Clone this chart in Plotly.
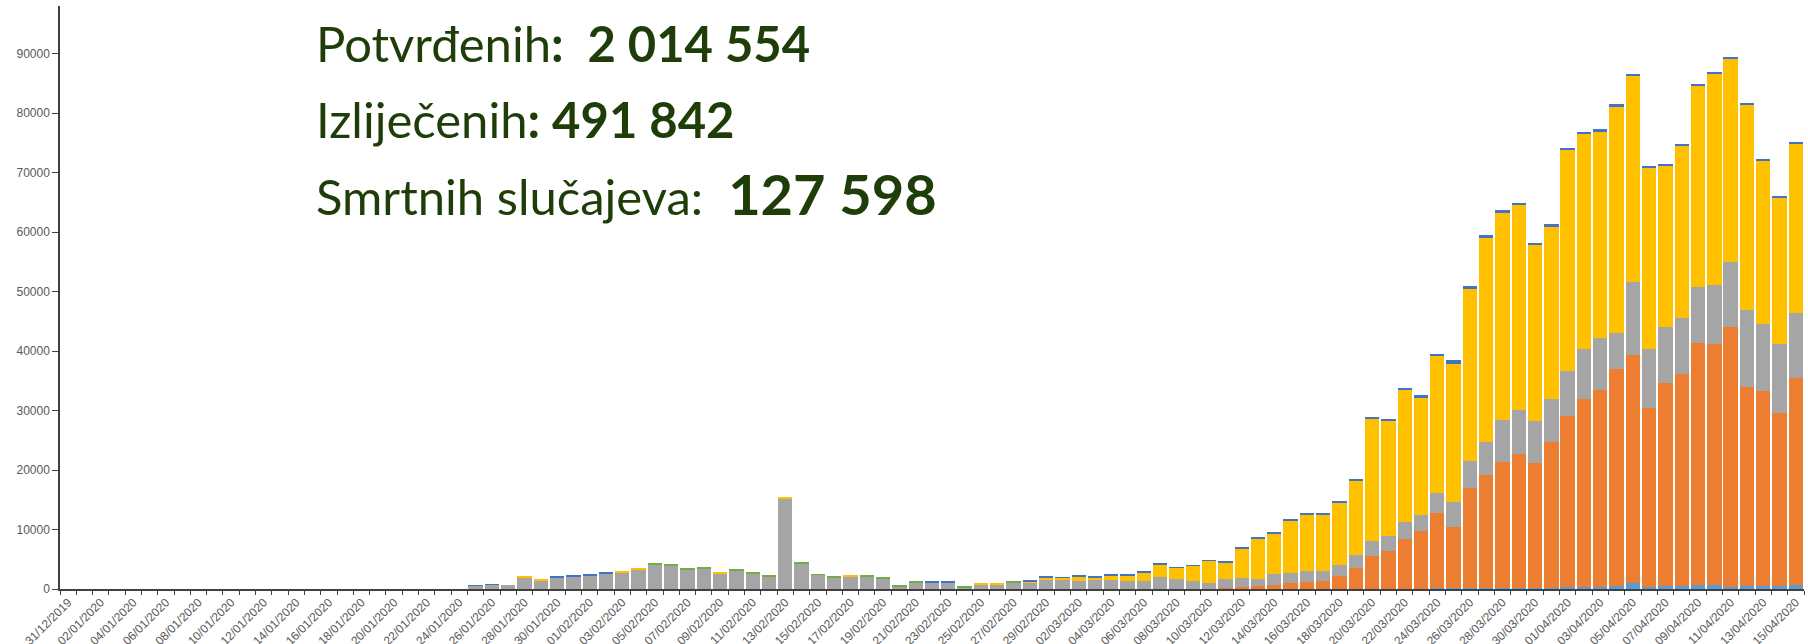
import plotly.graph_objects as go
from datetime import date, timedelta

# Categories: daily dates 31/12/2019 .. 15/04/2020
start = date(2019, 12, 31)
dates = [(start + timedelta(days=i)).strftime("%d/%m/%Y") for i in range(107)]

africa = [
    0, 0, 0, 0, 0, 0, 0, 0, 0, 0,
    0, 0, 0, 0, 0, 0, 0, 0, 0, 0,
    0, 0, 0, 0, 0, 0, 0, 0, 0, 0,
    0, 0, 0, 0, 0, 0, 0, 0, 0, 0,
    0, 0, 0, 0, 0, 0, 0, 0, 0, 0,
    0, 0, 0, 0, 0, 0, 0, 0, 0, 0,
    0, 0, 0, 0, 0, 0, 0, 0, 0, 0,
    0, 0, 0, 0, 0, 0, 0, 0, 0, 0,
    0, 0, 0, 0, 150, 150, 250, 200, 200, 200,
    200, 200, 400, 400, 400, 450, 1000, 400, 450, 550,
    700, 600, 400, 500, 500, 550, 700,
]

america = [
    0, 0, 0, 0, 0, 0, 0, 0, 0, 0,
    0, 0, 0, 0, 0, 0, 0, 0, 0, 0,
    0, 0, 0, 0, 0, 0, 0, 0, 0, 0,
    0, 0, 0, 0, 0, 0, 0, 0, 0, 0,
    0, 0, 0, 0, 0, 0, 0, 0, 0, 0,
    0, 0, 0, 0, 0, 0, 0, 0, 0, 0,
    0, 0, 0, 0, 0, 0, 0, 0, 0, 0,
    0, 200, 280, 450, 670, 950, 1120, 1350, 2130, 3480,
    5610, 6450, 8420, 9820, 12580, 10230, 16690, 18990, 21170, 22410,
    21060, 24430, 28660, 31580, 33040, 36580, 38380, 30010, 34160, 35630,
    40650, 40630, 43580, 33440, 32710, 29010, 34750,
]

asia = [
    0, 0, 0, 0, 0, 0, 0, 0, 0, 0,
    0, 0, 0, 0, 0, 0, 0, 0, 0, 0,
    0, 0, 0, 0, 0, 520, 720, 670, 1850, 1380,
    1850, 2050, 2250, 2620, 2800, 3250, 4050, 3880, 3220, 3500,
    2580, 3060, 2650, 2060, 15150, 4240, 2450, 2000, 2030, 2060,
    1830, 500, 1060, 1050, 1050, 330, 800, 800, 1100, 950,
    1570, 1460, 1400, 1460, 1570, 1290, 1350, 2020, 1680, 1290,
    1070, 1400, 1630, 1230, 1850, 1740, 1960, 1740, 1960, 2190,
    2410, 2520, 2800, 2640, 3370, 4260, 4660, 5440, 7070, 7400,
    6900, 7350, 7520, 8420, 8700, 6000, 12160, 9930, 9370, 9370,
    9420, 9920, 10930, 13000, 11330, 11610, 10940,
]

europe = [
    0, 0, 0, 0, 0, 0, 0, 0, 0, 0,
    0, 0, 0, 0, 0, 0, 0, 0, 0, 0,
    0, 0, 0, 0, 0, 0, 0, 0, 170, 140,
    0, 0, 0, 0, 170, 170, 0, 0, 0, 0,
    170, 0, 0, 0, 150, 0, 0, 0, 160, 0,
    0, 0, 0, 0, 0, 0, 150, 150, 0, 350,
    350, 420, 710, 480, 700, 980, 1470, 2090, 1870, 2590,
    3650, 2840, 4950, 6750, 6870, 8890, 9500, 9490, 10460, 12530,
    20710, 19420, 22300, 19600, 23230, 23200, 28950, 34400, 34840, 34510,
    29640, 28910, 37330, 36160, 34810, 38020, 34760, 30540, 27190, 28930,
    33790, 35540, 34200, 34490, 27520, 24560, 28540,
]

oceania = [
    0, 0, 0, 0, 0, 0, 0, 0, 0, 0,
    0, 0, 0, 0, 0, 0, 0, 0, 0, 0,
    0, 0, 0, 0, 0, 100, 120, 0, 0, 0,
    170, 190, 160, 240, 0, 0, 0, 0, 0, 0,
    0, 0, 0, 0, 0, 0, 0, 0, 0, 0,
    0, 0, 0, 180, 180, 0, 0, 0, 0, 100,
    100, 80, 80, 80, 90, 90, 100, 100, 100, 100,
    100, 100, 150, 150, 150, 150, 150, 150, 150, 200,
    200, 200, 300, 500, 200, 600, 300, 400, 400, 400,
    400, 500, 200, 300, 300, 400, 200, 200, 200, 200,
    200, 200, 200, 200, 200, 200, 200,
]

other = [
    0, 0, 0, 0, 0, 0, 0, 0, 0, 0,
    0, 0, 0, 0, 0, 0, 0, 0, 0, 0,
    0, 0, 0, 0, 0, 0, 0, 0, 0, 0,
    0, 0, 0, 0, 0, 0, 160, 160, 150, 150,
    0, 140, 150, 130, 0, 140, 70, 130, 0, 130,
    130, 120, 120, 0, 0, 120, 0, 0, 130, 0,
    0, 0, 0, 0, 0, 0, 0, 0, 0, 0,
    0, 0, 0, 0, 0, 0, 0, 0, 0, 0,
    0, 0, 0, 0, 0, 0, 0, 0, 0, 0,
    0, 0, 0, 0, 0, 0, 0, 0, 0, 0,
    0, 0, 0, 0, 0, 0, 0,
]

y_ticks = [0, 10000, 20000, 30000, 40000, 50000, 60000, 70000, 80000, 90000]

series = [
    ("Africa", africa, "#5B9BD5"),
    ("America", america, "#ED7D31"),
    ("Asia", asia, "#A5A5A5"),
    ("Europe", europe, "#FFC000"),
    ("Oceania", oceania, "#4472C4"),
    ("Other", other, "#70AD47"),
]

fig = go.Figure()
for name, vals, col in series:
    fig.add_trace(go.Bar(x=dates, y=vals, name=name, marker=dict(color=col, line=dict(width=0))))

ticktext = [d if i % 2 == 0 else "" for i, d in enumerate(dates)]

fig.update_layout(
    barmode="stack",
    bargap=0.12,
    width=1808,
    height=644,
    margin=dict(l=60, r=4, t=6, b=55),
    paper_bgcolor="white",
    plot_bgcolor="white",
    showlegend=False,
    font=dict(family="Liberation Sans, Arial, sans-serif", color="#595959"),
)
fig.update_xaxes(
    type="category",
    tickmode="array",
    tickvals=dates,
    ticktext=ticktext,
    tickangle=-45,
    tickson="boundaries",
    ticks="outside",
    ticklen=4,
    tickcolor="#404040",
    showline=True,
    linecolor="#404040",
    linewidth=1.5,
    showgrid=False,
    tickfont=dict(size=12, color="#595959"),
    automargin=False,
)
fig.update_yaxes(
    range=[0, 98000],
    tickmode="array",
    tickvals=y_ticks,
    ticktext=[str(v) for v in y_ticks],
    ticks="outside",
    ticklen=6,
    tickcolor="#404040",
    showline=True,
    linecolor="#404040",
    linewidth=1.5,
    showgrid=False,
    zeroline=False,
    tickfont=dict(size=12, color="#595959"),
    automargin=False,
)

green = "#1F3D08"
nb = "\u00a0"
lines = [
    ("Potvrđenih<b>:" + nb + nb + "2" + nb + "014" + nb + "554</b>", 43),
    ("Izliječenih<b>:" + nb + "491" + nb + "842</b>", 119),
    ("Smrtnih slučajeva:" + nb + nb + "<span style='font-size:56px'><b>127" + nb + "598</b></span>", 194),
]
plot_top, plot_bottom = 6, 589
for txt, ypx in lines:
    fig.add_annotation(
        text=txt, xref="paper", yref="paper",
        x=(314 - 60) / 1744, y=(plot_bottom - ypx) / (plot_bottom - plot_top),
        xanchor="left", yanchor="middle", showarrow=False,
        font=dict(family="Lato, sans-serif", size=49, color=green),
    )

fig.write_html(
    "out.html",
    config={"displayModeBar": False},
    post_script="document.body.style.margin='0';document.body.style.overflow='hidden';",
)
